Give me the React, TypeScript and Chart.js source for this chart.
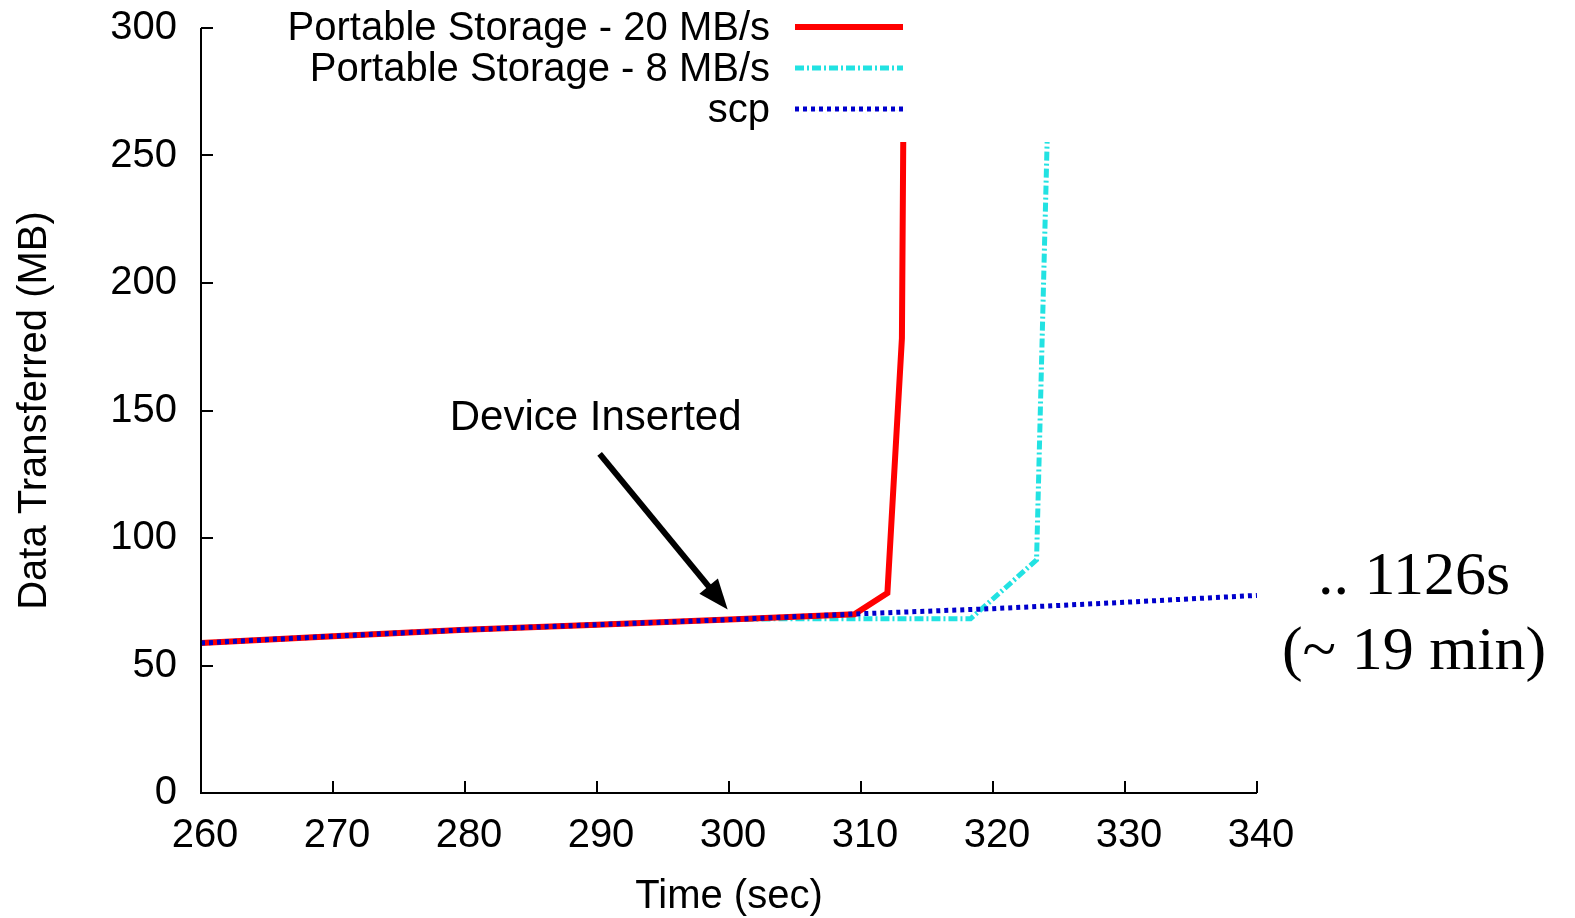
import React, { useEffect, useRef } from 'react';
import { Chart, registerables } from 'chart.js';

Chart.register(...registerables);

// ---- data ----
const seriesLabels = ['Portable Storage - 20 MB/s', 'Portable Storage - 8 MB/s', 'scp'];

const scpTime = [260, 270, 280, 290, 300, 310, 320, 330, 340];
const scpData = [58.8, 61.5, 64, 66, 68, 70.3, 72.3, 74.8, 77.5];

const ps20Time = [260, 270, 280, 290, 300, 309.5, 312, 313.1, 313.2];
const ps20Data = [58.8, 61.5, 64, 66, 68, 70.1, 78.4, 178.4, 255.3];

const ps8Time = [260, 270, 280, 290, 300, 303.5, 318.3, 323.3, 324.1];
const ps8Data = [58.8, 61.5, 64, 66, 68, 68.3, 68.3, 91.4, 255.3];

const xMin = 260;
const xMax = 340;
const xStep = 10;
const yMin = 0;
const yMax = 300;
const yStep = 50;

const xTitle = 'Time (sec)';
const yTitle = 'Data Transferred (MB)';

const annotationText = 'Device Inserted';
const annotationTextAt = [289.9, 147];
const arrowFrom = [290.2, 133];
const arrowTo = [299.9, 72];

const noteLines = ['.. 1126s', '(~ 19 min)'];
const noteAt = [351.9, 84.6, 55.1];

const SANS = '"Liberation Sans", Arial, Helvetica, sans-serif';
const SERIF = '"Liberation Serif", "Times New Roman", serif';

const colors = ['#ff0000', '#22e2e2', '#0000cc'];
const dashes = [[], [9, 3, 2, 3], [4, 4]];
const widths = [6, 5, 5];

const toPts = (xs: number[], ys: number[]) => xs.map((v, i) => ({ x: v, y: ys[i] }));

const overlay = {
  id: 'overlay',
  afterDraw(chart: any) {
    const { ctx, chartArea, scales } = chart;
    const { left, right, top, bottom } = chartArea;
    const x = scales.x;
    const y = scales.y;
    ctx.save();
    // axes
    ctx.strokeStyle = '#000';
    ctx.lineWidth = 2;
    ctx.setLineDash([]);
    ctx.beginPath();
    ctx.moveTo(left, top);
    ctx.lineTo(left, bottom);
    ctx.lineTo(right, bottom);
    ctx.stroke();
    // inward ticks
    ctx.beginPath();
    y.ticks.forEach((t: any) => {
      const py = Math.round(y.getPixelForValue(t.value));
      ctx.moveTo(left, py);
      ctx.lineTo(left + 12, py);
    });
    x.ticks.forEach((t: any) => {
      const px = Math.round(x.getPixelForValue(t.value));
      ctx.moveTo(px, bottom);
      ctx.lineTo(px, bottom - 12);
    });
    ctx.stroke();

    // legend
    const legY = [27, 68, 109];
    ctx.font = `40px ${SANS}`;
    ctx.fillStyle = '#000';
    ctx.textAlign = 'right';
    ctx.textBaseline = 'middle';
    seriesLabels.forEach((lab, i) => {
      ctx.fillText(lab, 770, legY[i] + 2);
      ctx.save();
      ctx.strokeStyle = colors[i];
      ctx.lineWidth = widths[i];
      ctx.setLineDash(dashes[i]);
      ctx.beginPath();
      ctx.moveTo(795, legY[i]);
      ctx.lineTo(903, legY[i]);
      ctx.stroke();
      ctx.restore();
    });

    // annotation
    ctx.font = `42px ${SANS}`;
    ctx.textAlign = 'center';
    ctx.fillText(annotationText, x.getPixelForValue(annotationTextAt[0]), y.getPixelForValue(annotationTextAt[1]));
    const x0 = x.getPixelForValue(arrowFrom[0]);
    const y0 = y.getPixelForValue(arrowFrom[1]);
    const x1 = x.getPixelForValue(arrowTo[0]);
    const y1 = y.getPixelForValue(arrowTo[1]);
    const ang = Math.atan2(y1 - y0, x1 - x0);
    const headLen = 30;
    const headW = 12;
    const bx = x1 - headLen * Math.cos(ang);
    const by = y1 - headLen * Math.sin(ang);
    ctx.strokeStyle = '#000';
    ctx.lineWidth = 6;
    ctx.beginPath();
    ctx.moveTo(x0, y0);
    ctx.lineTo(bx + 2 * Math.cos(ang), by + 2 * Math.sin(ang));
    ctx.stroke();
    ctx.fillStyle = '#000';
    ctx.beginPath();
    ctx.moveTo(x1, y1);
    ctx.lineTo(bx + headW * Math.sin(ang), by - headW * Math.cos(ang));
    ctx.lineTo(bx - headW * Math.sin(ang), by + headW * Math.cos(ang));
    ctx.closePath();
    ctx.fill();

    // right note
    ctx.font = `62px ${SERIF}`;
    ctx.textAlign = 'center';
    ctx.textBaseline = 'middle';
    const nx = x.getPixelForValue(noteAt[0]);
    ctx.fillText(noteLines[0], nx, y.getPixelForValue(noteAt[1]));
    ctx.fillText(noteLines[1], nx, y.getPixelForValue(noteAt[2]));
    ctx.restore();
  },
};

export default function App() {
  const ref = useRef<HTMLCanvasElement | null>(null);
  useEffect(() => {
    if (!ref.current) return;
    const mk = (i: number, pts: any[], order: number) => ({
      label: seriesLabels[i],
      data: pts,
      borderColor: colors[i],
      backgroundColor: colors[i],
      borderWidth: widths[i],
      borderDash: dashes[i],
      borderCapStyle: 'butt',
      pointRadius: 0,
      fill: false,
      tension: 0,
      order,
    });
    const chart = new Chart(ref.current, {
      type: 'line',
      data: {
        datasets: [
          mk(0, toPts(ps20Time, ps20Data), 1),
          mk(1, toPts(ps8Time, ps8Data), 2),
          mk(2, toPts(scpTime, scpData), 0),
        ],
      },
      plugins: [overlay],
      options: {
        animation: false,
        responsive: true,
        maintainAspectRatio: false,
        layout: { padding: { top: 28, right: 318, left: 0, bottom: 0 } },
        plugins: { legend: { display: false }, tooltip: { enabled: false } },
        scales: {
          x: {
            type: 'linear',
            min: xMin,
            max: xMax,
            grid: { display: false, drawTicks: false },
            border: { display: false },
            ticks: { stepSize: xStep, color: '#000', padding: 19, labelOffset: 4, font: { family: SANS, size: 40 }, maxRotation: 0 },
            title: { display: true, text: xTitle, color: '#000', font: { family: SANS, size: 40, lineHeight: 1.0 }, padding: { top: 0, bottom: 1 } },
            afterFit: (s: any) => { s.height = 125; s.paddingLeft = 0; s.paddingRight = 0; },
          },
          y: {
            min: yMin,
            max: yMax,
            grid: { display: false, drawTicks: false },
            border: { display: false },
            ticks: { stepSize: yStep, color: '#000', padding: 24, font: { family: SANS, size: 40 } },
            title: { display: true, text: yTitle, color: '#000', font: { family: SANS, size: 40 }, padding: { top: 11, bottom: 0 } },
            afterFit: (s: any) => { s.width = 201; s.paddingTop = 0; s.paddingBottom = 0; },
          },
        },
      },
    } as any);
    return () => chart.destroy();
  }, []);
  return (
    <div style={{ position: 'fixed', left: 0, top: 0, width: 1575, height: 918, background: '#fff' }}>
      <canvas ref={ref} />
    </div>
  );
}
